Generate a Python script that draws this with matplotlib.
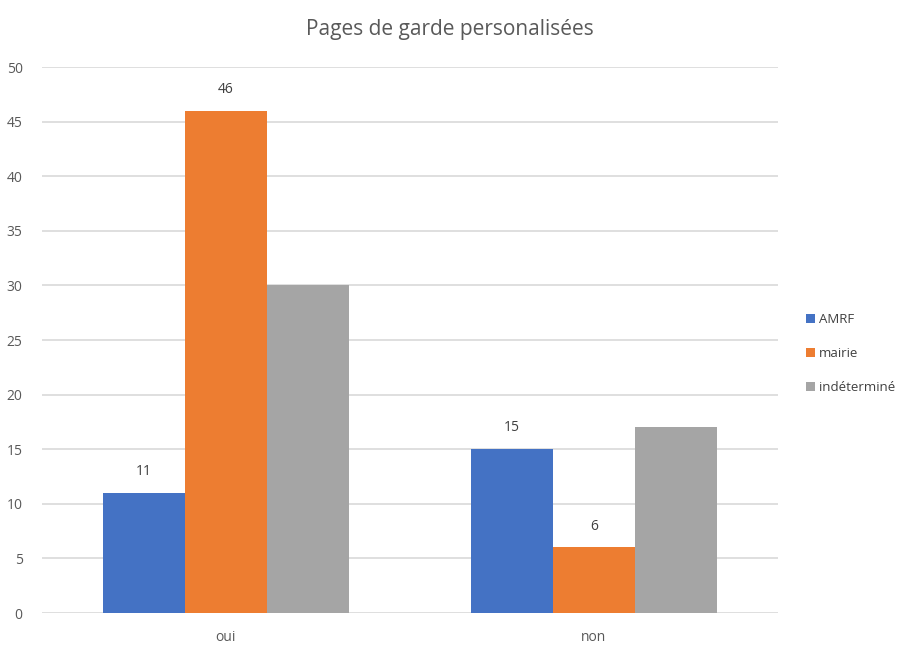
import numpy as np
import matplotlib.pyplot as plt

plt.rcParams['font.family'] = ['Open Sans', 'DejaVu Sans']

categories = ['oui', 'non']
series_names = ['AMRF', 'mairie', 'indéterminé']
amrf = [11, 15]
mairie = [46, 6]
indetermine = [30, 17]
colors = ['#4472C4', '#ED7D31', '#A5A5A5']
labelled = [True, True, False]

fig = plt.figure(figsize=(9, 6.48), dpi=100)
ax = fig.add_axes([0.0467, 0.054, 0.8173, 0.8426])

x = np.arange(len(categories))
w = 0.223
for i, (vals, name) in enumerate(zip([amrf, mairie, indetermine], series_names)):
    bars = ax.bar(x + (i - 1) * w, vals, w, color=colors[i], label=name, zorder=3)
    if labelled[i]:
        ax.bar_label(bars, padding=10, fontsize=10, color='#404040')

ax.set_xlim(-0.5, 1.5)
ax.set_ylim(0, 50)
ax.set_yticks(np.arange(0, 51, 5))
ax.set_xticks(x)
ax.set_xticklabels(categories)
ax.grid(axis='y', color='#d9d9d9', linewidth=1.2, zorder=0)
for s in ax.spines.values():
    s.set_visible(False)
ax.tick_params(length=0, labelsize=10, colors='#595959', pad=14)
ax.tick_params(axis='x', pad=12)

fig.suptitle('Pages de garde personalisées', y=0.97, fontsize=15, color='#595959')

leg = ax.legend(loc='center left', bbox_to_anchor=(1.022, 0.475), frameon=False,
                fontsize=9.5, handlelength=0.7, handleheight=0.7, handletextpad=0.3,
                labelspacing=1.6)
for t in leg.get_texts():
    t.set_color('#404040')

fig.savefig('out.png', dpi=100)
